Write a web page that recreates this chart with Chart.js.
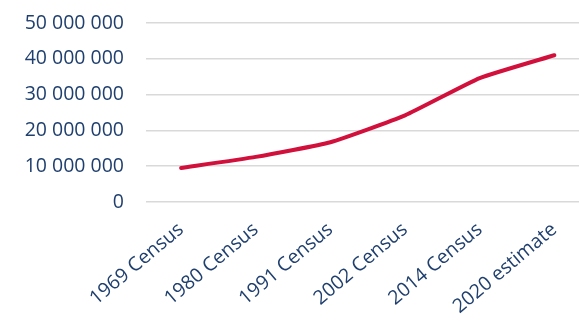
<!DOCTYPE html>
<html>
<head>
<meta charset="utf-8">
<script src="https://cdn.jsdelivr.net/npm/chart.js@4.4.0/dist/chart.umd.min.js"></script>
<style>
  html, body { margin: 0; padding: 0; background: #fff; }
  #wrap { width: 579px; height: 324px; position: relative; }
</style>
</head>
<body>
<div id="wrap"><canvas id="c"></canvas></div>
<script>
const categories = ['1969 Census', '1980 Census', '1991 Census', '2002 Census', '2014 Census', '2020 estimate']
const population = [9500000, 12600000, 16700000, 24200000, 34600000, 41000000]
const yTicks = [0, 10000000, 20000000, 30000000, 40000000, 50000000]

const textColor = '#1f3f6e'
const fontFamily = '"Open Sans", sans-serif'

// space as thousands separator
const fmt = (v) => String(v).replace(/\B(?=(\d{3})+(?!\d))/g, ' ')

const points = population.map((v, i) => ({ x: i, y: v }))

const chart = new Chart(document.getElementById('c').getContext('2d'), {
  type: 'line',
  data: {
    datasets: [{
      data: points,
      borderColor: '#d1103c',
      borderWidth: 4,
      pointRadius: 0,
      tension: 0.15,
      borderCapStyle: 'round',
      borderJoinStyle: 'round'
    }]
  },
  options: {
    responsive: true,
    maintainAspectRatio: false,
    animation: false,
    layout: { padding: { top: 23, left: 0, right: 0, bottom: 0 } },
    plugins: { legend: { display: false }, tooltip: { enabled: false } },
    scales: {
      x: {
        type: 'linear',
        min: -0.47,
        max: 5.33,
        afterBuildTicks: (axis) => {
          axis.ticks = categories.map((c, i) => ({ value: i }))
        },
        afterFit: (axis) => {
          axis.height = 122
          axis.paddingLeft = 0
          axis.paddingRight = 0
        },
        grid: { display: false, drawTicks: false },
        border: { display: false },
        ticks: {
          color: textColor,
          font: { family: fontFamily, size: 19.5 },
          minRotation: 40,
          maxRotation: 40,
          padding: 16,
          autoSkip: false,
          callback: (v) => categories[v]
        }
      },
      y: {
        min: 0,
        max: 50000000,
        afterBuildTicks: (axis) => {
          axis.ticks = yTicks.map((v) => ({ value: v }))
        },
        afterFit: (axis) => {
          axis.width = 146
          axis.paddingTop = 0
          axis.paddingBottom = 0
        },
        grid: { color: '#d9d9d9', lineWidth: 1.5, drawTicks: false },
        border: { display: false },
        ticks: {
          color: textColor,
          font: { family: fontFamily, size: 19.5 },
          padding: 22,
          callback: (v) => fmt(v)
        }
      }
    }
  }
})
</script>
</body>
</html>
